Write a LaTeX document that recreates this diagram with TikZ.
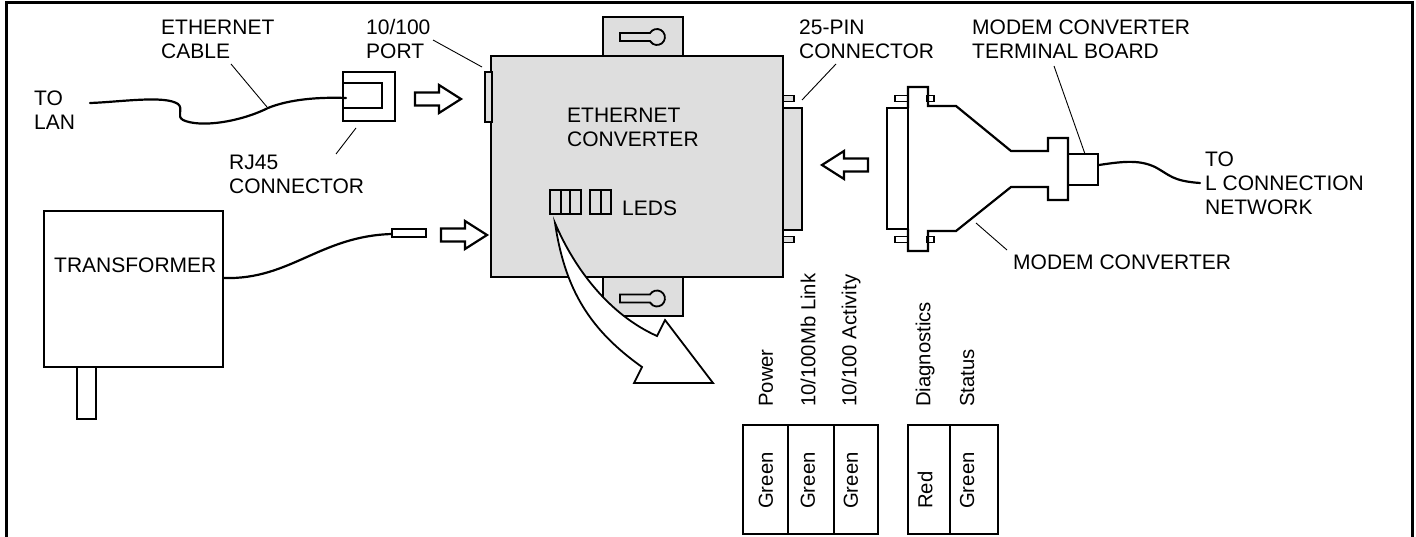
\documentclass[tikz,border=0pt]{standalone}
\usepackage{fontspec}
\setmainfont{Liberation Sans}
\usetikzlibrary{calc,positioning}
\definecolor{boxgray}{gray}{0.87}
\tikzset{
  part/.style={draw=black,line width=2.2pt,line join=miter},
  graypart/.style={part,fill=boxgray},
  cable/.style={draw=black,line width=2.2pt,line cap=round},
  leader/.style={draw=black,line width=0.9pt},
  lbl/.style={inner sep=0pt,anchor=west,align=left,font=\fontsize{21}{24}\selectfont},
  ledlbl/.style={inner sep=0pt,anchor=west,rotate=90,font=\fontsize{20.3}{24}\selectfont},
  blockarrow/.pic={
    \draw[part,fill=white] (0,-6.5) -- (24,-6.5) -- (24,-14) -- (46,0) -- (24,14) -- (24,6.5) -- (0,6.5) -- cycle;
  },
  keyhole/.pic={
    \draw[part,line width=1.8pt] (0,-4) -- (30,-4) arc[start angle=-150,end angle=150,radius=8] -- (0,4) -- cycle;
  }
}
\begin{document}
\begin{tikzpicture}[x=1pt,y=-1pt]
  \useasboundingbox (0,0) rectangle (1416,537);
  % outer frame
  \draw[black,line width=3pt] (6,537) -- (6,3) -- (1412,3) -- (1412,537);

  % mounting tabs
  \filldraw[graypart] (603,17) rectangle (683,56);
  \filldraw[graypart] (603,277) rectangle (683,316);
  \pic at (620,37) {keyhole};
  \pic at (620,298.5) {keyhole};
  % pins on the 25-pin side
  \filldraw[graypart,line width=1.8pt] (782,95.5) rectangle (794,101.5);
  \filldraw[graypart,line width=1.8pt] (782,236.5) rectangle (794,242.5);
  \filldraw[graypart] (783,108) rectangle (802,230);
  % converter box
  \filldraw[graypart] (491,56) rectangle (783,277);
  \filldraw[graypart,line width=1.8pt] (485,72) rectangle (492,122);
  \node[lbl] (converter) at (567,127) {ETHERNET\\CONVERTER};
  % leds on the box
  \draw[part] (550,190) rectangle (581,214);
  \draw[part] (561,190) -- (561,214);
  \draw[part] (570,190) -- (570,214);
  \draw[part] (590,190) rectangle (611,214);
  \draw[part] (601,190) -- (601,214);
  \node[lbl] (leds) at (622,208) {LEDS};

  % left side, lan
  \node[lbl] (tolan) at (34,110) {TO\\LAN};
  \draw[part] (343,72) rectangle (395,121);
  \draw[part] (343,83) -- (382,83) -- (382,108) -- (343,108);
  \coordinate (cableA) at (90,103);
  \coordinate (cableB) at (346,98);
  \draw[cable] (cableA) .. controls (120,102) and (165,95) .. (178,104)
     .. controls (184,109) and (176,116) .. (183,120)
     .. controls (200,128) and (240,122) .. (268,108)
     .. controls (290,99) and (320,97) .. (cableB);
  \pic at (415,99) {blockarrow};
  \node[lbl] (ethcable) at (161,39) {ETHERNET\\CABLE};
  \node[lbl] (port) at (366,39) {10/100\\PORT};
  \node[lbl] (rj45) at (229,174) {RJ45\\CONNECTOR};
  \coordinate (ethlead) at (231,64);
  \coordinate (ethend) at (267,107);
  \draw[leader] (ethlead) -- (ethend);
  \coordinate (portlead) at (433,40);
  \coordinate (portend) at (482,67);
  \draw[leader] (portlead) -- (portend);
  \coordinate (rjlead) at (336,154);
  \coordinate (rjend) at (356,128);
  \draw[leader] (rjlead) -- (rjend);

  % transformer
  \draw[part] (44,211) rectangle (223,367);
  \draw[part] (77,367) rectangle (96,419);
  \node[lbl] (transformer) at (54,265) {TRANSFORMER};
  \draw[part,line width=1.8pt] (392,229) rectangle (426,237);
  \coordinate (powerA) at (224,278);
  \coordinate (powerB) at (392,234);
  \draw[cable] (powerA) .. controls (290,280) and (320,236) .. (powerB);
  \pic at (441,235) {blockarrow};

  % modem converter
  \draw[part,line width=1.8pt] (895,95.5) rectangle (908,101.5);
  \draw[part,line width=1.8pt] (895,236.5) rectangle (908,242.5);
  \draw[part,line width=1.8pt] (927,95.5) rectangle (934,101.5);
  \draw[part,line width=1.8pt] (927,236.5) rectangle (934,242.5);
  \draw[part] (887,108) rectangle (908,229);
  \draw[part] (908,229) -- (908,251) -- (928,251) -- (928,231) -- (956,231) -- (1011,187) -- (1048,187) -- (1048,200) -- (1068,200)
     -- (1068,138) -- (1048,138) -- (1048,151) -- (1011,151) -- (956,106) -- (928,106) -- (928,87) -- (908,87) -- (908,108);
  \draw[part] (1068,154) rectangle (1098,185);
  \coordinate (lineA) at (1099,165);
  \coordinate (lineB) at (1200,183);
  \draw[cable] (lineA) .. controls (1125,161) and (1140,160) .. (1155,167)
     .. controls (1170,175) and (1172,181) .. (lineB);
  \pic[xscale=-1] at (868,165) {blockarrow};
  \node[lbl] (pin) at (799,39) {25-PIN\\CONNECTOR};
  \node[lbl] (board) at (972,39) {MODEM CONVERTER\\TERMINAL BOARD};
  \node[lbl] (modem) at (1013,262) {MODEM CONVERTER};
  \node[lbl] (tonet) at (1205,183) {TO\\L CONNECTION\\NETWORK};
  \coordinate (pinlead) at (836,64);
  \coordinate (pinend) at (802,100);
  \draw[leader] (pinlead) -- (pinend);
  \coordinate (boardlead) at (1054,66);
  \coordinate (boardend) at (1085,154);
  \draw[leader] (boardlead) -- (boardend);
  \coordinate (modemlead) at (1007,250);
  \coordinate (modemend) at (976,223);
  \draw[leader] (modemlead) -- (modemend);

  % curved arrow down to the led table
  \draw[part,fill=white,line width=1.8pt] (555,223) .. controls (565,290) and (590,330) .. (642,367) -- (634,383) -- (713,383) -- (665,320) -- (657,336)
     .. controls (610,315) and (575,270) .. cycle;

  % led table
  \draw[part] (743,425) rectangle (878,534);
  \draw[part] (788,425) -- (788,534);
  \draw[part] (834,425) -- (834,534);
  \draw[part] (908,425) rectangle (998,534);
  \draw[part] (950,425) -- (950,534);
  \foreach \ledx/\ledname/\ledcol in {766/Power/Green,808/10\slash100Mb Link/Green,851/10\slash100 Activity/Green,925/Diagnostics/Red,967/Status/Green}{
    \node[ledlbl] at (\ledx,407) {\ledname};
    \node[ledlbl] at (\ledx,509) {\ledcol};
  }
\end{tikzpicture}
\end{document}
